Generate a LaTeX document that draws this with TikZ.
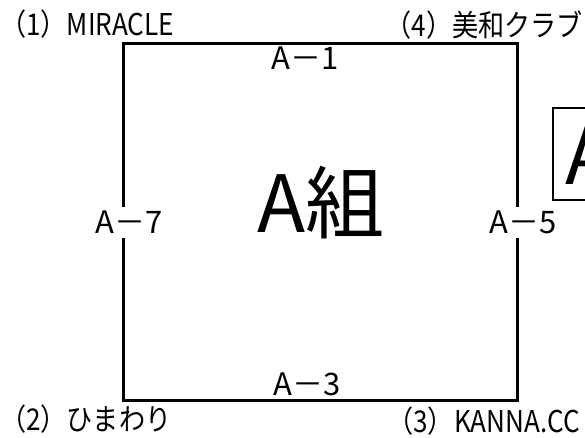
\documentclass[tikz,border=0pt]{standalone}
\usepackage{fontspec}
\setmainfont{Noto Sans CJK JP}
\newfontfamily\teamfont{Noto Sans CJK JP}[FakeStretch=0.87]
\tikzset{
  team/.style={font=\teamfont\fontsize{30}{30}\selectfont, inner sep=0pt},
  matchlbl/.style={font=\fontsize{31}{31}\selectfont, inner sep=0pt},
  sidelbl/.style={matchlbl, fill=white, text height=26pt, text depth=5pt},
  bigtxt/.style={font=\fontsize{79}{79}\selectfont, inner sep=0pt},
}
\begin{document}
\begin{tikzpicture}[x=1pt,y=-1pt]
  %%%%% START %%%%%
  \useasboundingbox (0,0) rectangle (585,437);
  \clip (0,0) rectangle (585,437);

  % group square
  \coordinate (nw) at (123.5,43.5);
  \coordinate (se) at (517,400.5);
  \draw[line width=3pt] (nw) rectangle (se);

  % teams at the corners
  \node[team, anchor=base west] (t1) at (0,35) {（1）MIRACLE};
  \node[team, anchor=base west] (t2) at (0,430) {（2）ひまわり};
  \node[team, anchor=base east] (t3) at (580,432) {（3）KANNA.CC};
  \node[team, anchor=base east] (t4) at (583,36) {（4）美和クラブ};

  % matches on the sides
  \node[matchlbl, anchor=base] (m1) at (305,69) {A－1};
  \node[matchlbl, anchor=base] (m3) at (307,395) {A－3};
  \node[sidelbl, anchor=base] (m5) at (523,233) {A－5};
  \node[sidelbl, anchor=base] (m7) at (129,233) {A－7};

  % group name
  \node[bigtxt, anchor=base] (grp) at (321,232) {A組};

  % box on the right
  \coordinate (bnw) at (553,108);
  \coordinate (bse) at (640,200);
  \draw[line width=2pt] (bnw) rectangle (bse);
  \node[bigtxt, anchor=base west] (boxa) at (565,184) {A};
  %%%%% END %%%%%
\end{tikzpicture}
\end{document}
